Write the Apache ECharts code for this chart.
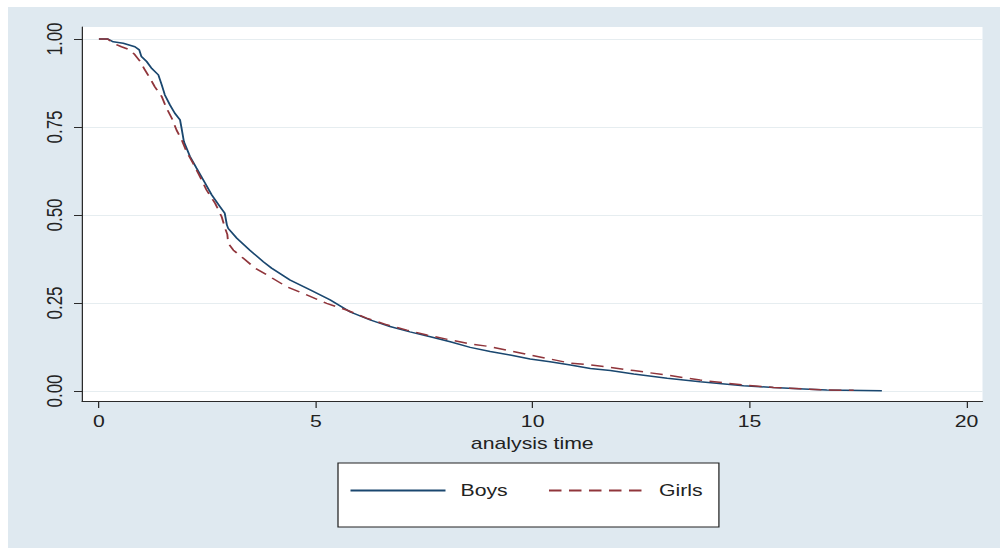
<!DOCTYPE html>
<html>
<head>
<meta charset="utf-8">
<script src="https://cdn.jsdelivr.net/npm/echarts@6/dist/echarts.min.js"></script>
<style>
  html, body { margin: 0; padding: 0; background: #fff; }
  #wrap { position: relative; width: 1000px; height: 548px; overflow: hidden; }
  /* the source picture is stretched sideways, so the whole chart is drawn narrower and scaled */
  #chart {
    position: absolute; left: 8px; top: 7px;
    width: 793.6px; height: 541px;
    transform: scaleX(1.25); transform-origin: 0 0;
  }
</style>
</head>
<body>
<div id="wrap"><div id="chart"></div></div>
<script>
// Kaplan-Meier estimates
var boysT = [0, 0.2, 0.33, 0.56, 0.83, 0.93, 0.98, 1.1, 1.22, 1.37, 1.45, 1.52, 1.64, 1.75, 1.87, 1.9, 1.96, 2.1, 2.25, 2.45, 2.6, 2.79, 2.9, 2.95, 2.98, 3.18, 3.48, 3.79, 3.98, 4.41, 4.87, 5.33, 5.79, 6.25, 6.71, 7.17, 7.64, 8.1, 8.56, 9.02, 9.48, 9.94, 10.4, 10.87, 11.33, 11.79, 12.33, 13.1, 13.86, 14.86, 15.55, 16.25, 16.78, 18.05]
var boysS = [1, 1, 0.992, 0.988, 0.978, 0.969, 0.95, 0.936, 0.916, 0.898, 0.869, 0.841, 0.812, 0.789, 0.77, 0.75, 0.708, 0.666, 0.633, 0.59, 0.557, 0.524, 0.505, 0.472, 0.462, 0.434, 0.40, 0.367, 0.349, 0.315, 0.287, 0.259, 0.225, 0.202, 0.183, 0.168, 0.154, 0.14, 0.124, 0.112, 0.102, 0.091, 0.083, 0.074, 0.064, 0.058, 0.048, 0.036, 0.026, 0.015, 0.01, 0.006, 0.003, 0.001]
var girlsT = [0, 0.2, 0.33, 0.52, 0.72, 0.83, 0.95, 1.06, 1.18, 1.29, 1.45, 1.56, 1.68, 1.79, 1.91, 2.02, 2.17, 2.33, 2.48, 2.68, 2.83, 2.91, 2.96, 2.98, 3.1, 3.33, 3.6, 3.87, 4.33, 4.79, 5.25, 5.71, 6.17, 6.64, 7.1, 7.56, 8.1, 8.56, 9.02, 9.48, 9.94, 10.4, 10.87, 11.33, 11.79, 12.33, 13.1, 13.86, 14.86, 15.55, 16.25, 16.78, 17.4]
var girlsS = [1, 1, 0.988, 0.978, 0.969, 0.955, 0.936, 0.912, 0.888, 0.864, 0.836, 0.803, 0.775, 0.741, 0.713, 0.68, 0.647, 0.609, 0.571, 0.533, 0.495, 0.462, 0.445, 0.42, 0.40, 0.377, 0.349, 0.33, 0.296, 0.273, 0.249, 0.23, 0.207, 0.188, 0.173, 0.159, 0.145, 0.134, 0.126, 0.114, 0.102, 0.091, 0.079, 0.074, 0.067, 0.058, 0.045, 0.031, 0.017, 0.01, 0.006, 0.003, 0.002]
var xTicks = [0, 5, 10, 15, 20]
var yTicks = [0, 0.25, 0.5, 0.75, 1]

function pairs(t, s) {
  return t.map(function (v, i) { return [v, s[i]] })
}

var font = 'Liberation Sans, Arial, sans-serif'
var chart = echarts.init(document.getElementById('chart'), null, { renderer: 'svg' })
chart.setOption({
  backgroundColor: '#dfe9f0',
  animation: false,
  grid: {
    left: 59.2, right: 14.4, top: 20, bottom: 147,
    show: true, backgroundColor: '#fff', borderWidth: 0
  },
  legend: {
    left: 264, top: 456,
    padding: [19, 13, 28, 9],
    backgroundColor: '#fff',
    borderColor: '#222',
    borderWidth: 1,
    borderRadius: 0,
    itemWidth: 76,
    itemHeight: 14,
    itemGap: 32,
    itemStyle: { opacity: 0 },
    textStyle: { fontFamily: font, fontSize: 17, color: '#222', padding: [0, 0, 0, 7] },
    data: ['Boys', 'Girls']
  },
  xAxis: {
    type: 'value',
    min: -0.39, max: 20.37,
    name: 'analysis time',
    nameLocation: 'middle',
    nameGap: 33,
    nameTextStyle: { fontFamily: font, fontSize: 17, color: '#222' },
    axisLine: { show: true, onZero: false, lineStyle: { color: '#2b2b2b', width: 1 } },
    axisTick: { show: true, length: 7, customValues: xTicks, lineStyle: { color: '#2b2b2b' } },
    axisLabel: { customValues: xTicks, margin: 12, fontFamily: font, fontSize: 17, color: '#222' },
    splitLine: { show: false }
  },
  yAxis: {
    type: 'value',
    min: -0.0284, max: 1.034,
    axisLine: { show: true, onZero: false, lineStyle: { color: '#2b2b2b', width: 1 } },
    axisTick: { show: true, length: 6.4, customValues: yTicks, lineStyle: { color: '#2b2b2b' } },
    axisLabel: {
      customValues: yTicks, rotate: 90, margin: 13,
      fontFamily: font, fontSize: 17, color: '#222',
      formatter: function (v) { return v.toFixed(2) }
    },
    splitLine: { show: true, lineStyle: { color: '#e6edf0', width: 1 } }
  },
  series: [
    {
      name: 'Boys',
      type: 'line',
      symbol: 'none',
      color: '#1a476f',
      lineStyle: { color: '#1a476f', width: 1.5 },
      data: pairs(boysT, boysS)
    },
    {
      name: 'Girls',
      type: 'line',
      symbol: 'none',
      color: '#90353b',
      lineStyle: { color: '#90353b', width: 1.5, type: [10, 6] },
      data: pairs(girlsT, girlsS)
    }
  ]
})
</script>
</body>
</html>
